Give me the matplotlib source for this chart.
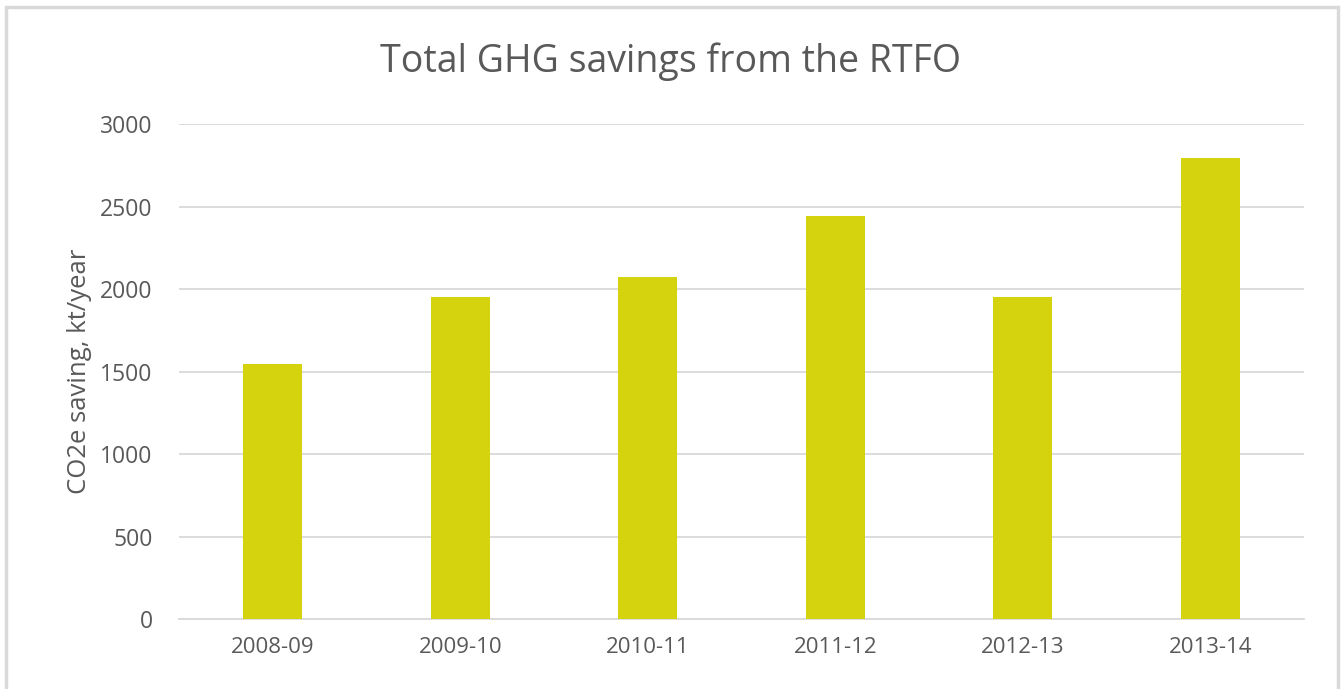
import matplotlib
matplotlib.use('Agg')
import matplotlib.pyplot as plt
from matplotlib.patches import Rectangle

years = ['2008-09', '2009-10', '2010-11', '2011-12', '2012-13', '2013-14']
savings = [1545, 1955, 2075, 2445, 1955, 2792]

plt.rcParams['font.family'] = ['Open Sans', 'DejaVu Sans']
text_color = '#595959'
grid_color = '#d9d9d9'

fig = plt.figure(figsize=(13.41, 6.89), dpi=100)
ax = fig.add_axes([0.1335, 0.1012, 0.8389, 0.7188])

x = range(len(years))
ax.bar(x, savings, width=0.315, color='#d5d20e', zorder=3)

ax.set_xlim(-0.5, len(years) - 0.5)
ax.set_ylim(0, 3000)
ax.set_yticks(range(0, 3001, 500))
ax.set_xticks(list(x))
ax.set_xticklabels(years)
ax.yaxis.grid(True, color=grid_color, linewidth=1.3, zorder=0)
for s in ['top', 'right', 'left']:
    ax.spines[s].set_visible(False)
ax.spines['bottom'].set_color(grid_color)
ax.spines['bottom'].set_linewidth(1.3)
ax.tick_params(axis='y', length=0, labelsize=16.5, labelcolor=text_color, pad=19)
ax.tick_params(axis='x', length=0, labelsize=16, labelcolor=text_color, pad=13)

ax.set_ylabel('CO2e saving, kt/year', fontsize=18.5, color=text_color, labelpad=6)
fig.text(0.5, 0.911, 'Total GHG savings from the RTFO', ha='center', va='center',
         fontsize=27, color=text_color)

# chart frame (bottom edge falls outside the image)
fig.patches.append(Rectangle((0.0048, -0.05), 0.9926, 1.04, transform=fig.transFigure,
                             fill=False, edgecolor=grid_color, linewidth=2.5))

fig.savefig('out.png', dpi=100)
